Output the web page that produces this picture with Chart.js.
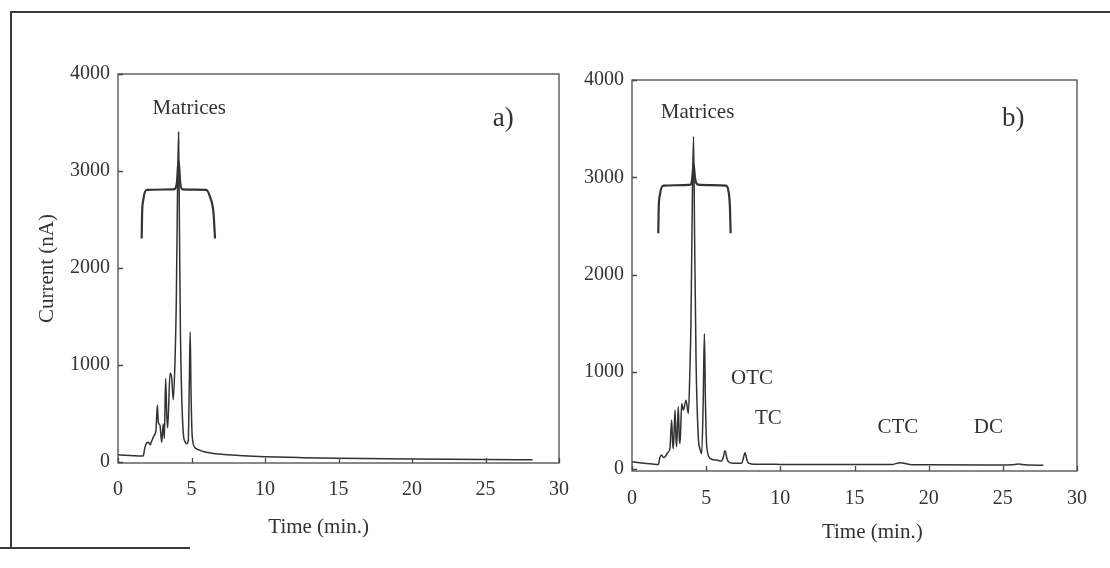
<!DOCTYPE html>
<html>
<head>
<meta charset="utf-8">
<script src="https://cdn.jsdelivr.net/npm/chart.js@4/dist/chart.umd.min.js"></script>
<style>
  html, body { margin: 0; padding: 0; background: #fff; }
  #page { position: relative; width: 1110px; height: 568px; overflow: hidden; background: #fff; }
  #page canvas { position: absolute; left: 0; top: 0; }
  .rule { position: absolute; background: #3a3a3a; }
</style>
</head>
<body>
<div id="page">
  <div class="rule" style="left:10px; top:11px; width:1100px; height:2px;"></div>
  <div class="rule" style="left:10px; top:11px; width:2px; height:538px;"></div>
  <div class="rule" style="left:0; top:547px; width:190px; height:2px;"></div>
  <canvas id="chartA" width="1110" height="568"></canvas>
  <canvas id="chartB" width="1110" height="568"></canvas>
</div>
<script>
// axis ticks
const xTicks = [0, 5, 10, 15, 20, 25, 30];
const yTicks = [0, 1000, 2000, 3000, 4000];

// panel a) chromatogram, time (min.) / current (nA)
const timeA = [0, 0.5, 1.0, 1.5, 1.72, 1.82, 1.95, 2.08, 2.18, 2.3, 2.45, 2.58, 2.68, 2.74, 2.86, 2.97,
  3.08, 3.15, 3.24, 3.32, 3.38, 3.54, 3.65, 3.76, 3.88, 3.97, 4.05, 4.12, 4.18, 4.25, 4.33, 4.44,
  4.58, 4.67, 4.78, 4.85, 4.91, 4.97, 5.05, 5.24, 5.45, 5.62, 5.8, 6.5, 7.5, 8.5, 10, 12.5, 15, 20, 25, 28.2];
const currentA = [72, 66, 63, 60, 60, 140, 195, 200, 175, 215, 270, 320, 585, 410, 375, 200,
  390, 240, 860, 470, 350, 914, 870, 640, 1050, 1700, 2800, 3400, 2400, 1300, 700, 300,
  200, 185, 220, 800, 1340, 700, 260, 145, 125, 115, 105, 85, 72, 62, 52, 42, 35, 27, 22, 20];

// panel b) chromatogram
const timeB = [0, 0.5, 1.0, 1.5, 1.77, 1.88, 2.0, 2.12, 2.23, 2.4, 2.56, 2.67, 2.75, 2.79, 2.9, 2.97,
  3.01, 3.12, 3.19, 3.24, 3.35, 3.46, 3.64, 3.8, 3.9, 3.97, 4.07, 4.15, 4.22, 4.32, 4.47, 4.6,
  4.7, 4.8, 4.88, 4.95, 5.04, 5.27, 5.71, 6.04, 6.15, 6.27, 6.4, 6.5, 6.83, 7.4, 7.5, 7.62, 7.75,
  7.85, 8.2, 10, 15, 17.5, 18.07, 18.7, 20, 25, 25.6, 26.05, 26.5, 27.73];
const currentB = [78, 68, 60, 52, 50, 120, 146, 120, 128, 170, 214, 505, 250, 214, 608, 300,
  231, 641, 320, 265, 676, 608, 710, 573, 1000, 1462, 2800, 3420, 2400, 1100, 333, 200,
  163, 700, 1394, 700, 231, 112, 94, 85, 120, 190, 110, 77, 62, 62, 110, 170, 95,
  62, 52, 50, 48, 49, 67, 50, 46, 44, 46, 53, 45, 40];

// brace over the matrix peaks
const braceTimeA = [1.61, 1.64, 1.72, 1.95, 3.81, 4.0, 4.12, 4.24, 4.4, 5.99, 6.26, 6.5, 6.6];
const braceCurrentA = [2303, 2560, 2700, 2805, 2810, 2870, 3110, 2870, 2810, 2805, 2732, 2560, 2303];
const braceTimeB = [1.77, 1.8, 1.88, 2.11, 3.96, 4.06, 4.15, 4.25, 4.45, 6.34, 6.5, 6.6, 6.65];
const braceCurrentB = [2426, 2680, 2820, 2915, 2925, 2990, 3140, 2990, 2925, 2915, 2860, 2700, 2426];

// text notes placed at (time, current)
const notesA = ['Matrices', 'a)'];
const notesTimeA = [4.85, 26.2];
const notesCurrentA = [3640, 3533];
const notesB = ['Matrices', 'b)', 'OTC', 'TC', 'CTC', 'DC'];
const notesTimeB = [4.42, 25.7, 8.09, 9.19, 17.92, 24.03];
const notesCurrentB = [3663, 3600, 932, 522, 430, 430];

const xTitle = 'Time (min.)';
const yTitle = 'Current (nA)';

const ink = '#333333';
const serif = "'Liberation Serif', 'Times New Roman', serif";

function toPoints(xs, ys) {
    return xs.map((x, i) => ({ x: x, y: ys[i] }));
}

const notesPlugin = {
    id: 'notes',
    afterDatasetsDraw(chart, args, opts) {
        const { ctx, chartArea, scales } = chart;
        const x = scales.x, y = scales.y;
        ctx.save();
        // plot box and inward tick marks
        ctx.strokeStyle = '#4a4a4a';
        ctx.lineWidth = 1.3;
        ctx.strokeRect(chartArea.left, chartArea.top, chartArea.right - chartArea.left, chartArea.bottom - chartArea.top);
        ctx.beginPath();
        xTicks.forEach(v => {
            const px = Math.round(x.getPixelForValue(v)) + 0.5;
            ctx.moveTo(px, chartArea.bottom);
            ctx.lineTo(px, chartArea.bottom - 5);
        });
        yTicks.forEach(v => {
            const py = Math.round(y.getPixelForValue(v)) + 0.5;
            ctx.moveTo(chartArea.left, py);
            ctx.lineTo(chartArea.left + 5, py);
        });
        ctx.stroke();
        ctx.fillStyle = ink;
        ctx.textAlign = 'center';
        ctx.textBaseline = 'middle';
        opts.text.forEach((t, i) => {
            ctx.font = (t.endsWith(')') ? '27px ' : '21px ') + serif;
            ctx.fillText(t, x.getPixelForValue(opts.time[i]), y.getPixelForValue(opts.current[i]));
        });
        // x axis title
        ctx.font = '21px ' + serif;
        ctx.fillText(xTitle, x.getPixelForValue(opts.titleAt), x.top + opts.titleGap);
        ctx.restore();
    }
};

function createChromatogram(canvasId, s) {
    const ctx = document.getElementById(canvasId).getContext('2d');
    return new Chart(ctx, {
        type: 'line',
        data: {
            datasets: [{
                data: toPoints(s.time, s.current),
                borderColor: ink,
                borderWidth: 1.5,
                pointRadius: 0,
                cubicInterpolationMode: 'monotone',
            }, {
                data: toPoints(s.braceTime, s.braceCurrent),
                borderColor: ink,
                borderWidth: 2.2,
                pointRadius: 0,
                cubicInterpolationMode: 'monotone',
            }],
        },
        options: {
            responsive: false,
            animation: false,
            devicePixelRatio: 1,
            layout: {
                padding: { left: s.padLeft, top: s.area.top, right: 1110 - s.area.right, bottom: 0 },
            },
            plugins: {
                legend: { display: false },
                tooltip: { enabled: false },
                notes: {
                    text: s.notes,
                    time: s.notesTime,
                    current: s.notesCurrent,
                    titleAt: s.titleAt,
                    titleGap: s.titleGap,
                },
            },
            scales: {
                x: {
                    type: 'linear',
                    min: 0,
                    max: 30,
                    border: { display: false },
                    grid: { display: false, drawTicks: false, tickLength: 0 },
                    ticks: {
                        color: ink, padding: s.xTickPad, maxRotation: 0,
                        font: { family: serif, size: 20 },
                        callback: v => String(v),
                    },
                    afterBuildTicks: scale => { scale.ticks = xTicks.map(v => ({ value: v })); },
                    afterFit: scale => { scale.height = 568 - s.area.bottom; },
                },
                y: {
                    type: 'linear',
                    min: s.yMin,
                    max: 4000,
                    border: { display: false },
                    grid: { display: false, drawTicks: false, tickLength: 0 },
                    ticks: {
                        color: ink, padding: 8,
                        font: { family: serif, size: 20 },
                        callback: v => String(v),
                    },
                    title: {
                        display: s.showYTitle,
                        text: yTitle,
                        color: ink,
                        font: { family: serif, size: 21 },
                        padding: { top: 35, bottom: 0 },
                    },
                    afterBuildTicks: scale => { scale.ticks = yTicks.map(v => ({ value: v })); },
                    afterFit: scale => { scale.width = s.area.left - s.padLeft; },
                },
            },
        },
        plugins: [notesPlugin],
    });
}

createChromatogram('chartA', {
    time: timeA, current: currentA,
    braceTime: braceTimeA, braceCurrent: braceCurrentA,
    notes: notesA, notesTime: notesTimeA, notesCurrent: notesCurrentA,
    area: { left: 118, top: 74, right: 559, bottom: 463 },
    padLeft: 0, yMin: -13, xTickPad: 15, titleAt: 13.65, titleGap: 64, showYTitle: true,
});

createChromatogram('chartB', {
    time: timeB, current: currentB,
    braceTime: braceTimeB, braceCurrent: braceCurrentB,
    notes: notesB, notesTime: notesTimeB, notesCurrent: notesCurrentB,
    area: { left: 632, top: 80, right: 1077, bottom: 471 },
    padLeft: 560, yMin: -18, xTickPad: 16, titleAt: 16.2, titleGap: 61, showYTitle: false,
});
</script>
</body>
</html>
